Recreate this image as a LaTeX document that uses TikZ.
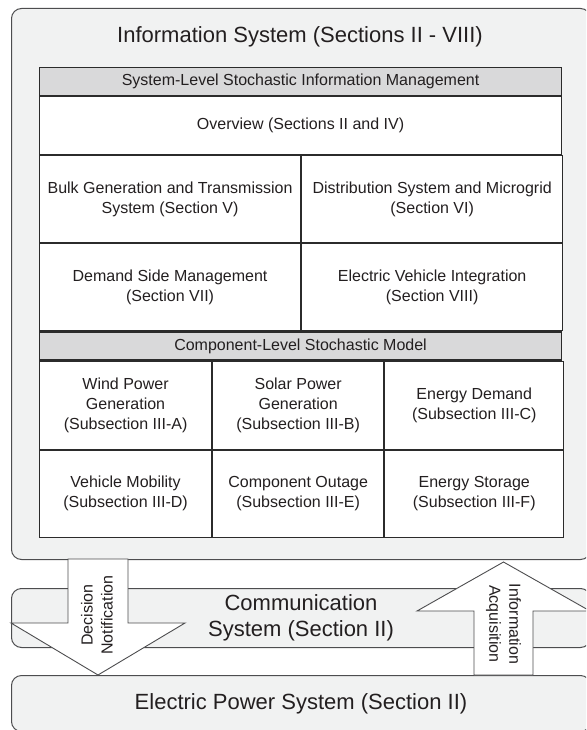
\documentclass[tikz,border=0pt]{standalone}
\usepackage{fontspec}
\setmainfont{Liberation Sans}
\usetikzlibrary{positioning}
\definecolor{boxfill}{HTML}{F1F2F2}
\definecolor{hdrgray}{HTML}{D9D9DA}
\definecolor{boxline}{HTML}{4D4D4F}
\definecolor{cellline}{HTML}{2B2B2B}
\definecolor{txtgray}{HTML}{231F20}
\newcommand{\cellfont}{\fontsize{16}{20}\selectfont}
\newcommand{\bigfont}{\fontsize{22}{25.5}\selectfont}
\tikzset{
    sysbox/.style={draw=boxline,fill=boxfill,rectangle,rounded corners=10pt,line width=1pt,anchor=north west,inner sep=0pt,align=center,font=\bigfont,text=txtgray},
    cellsty/.style={draw=cellline,fill=white,rectangle,anchor=north west,inner sep=0pt,align=center,font=\cellfont,text=txtgray,line width=1.1pt},
    hdrsty/.style={cellsty,fill=hdrgray},
    fullw/.style={minimum width=522},
    halfw/.style={minimum width=261},
    arrsty/.style={draw=boxline,fill=white,line width=0.9pt,line join=miter},
    arrtxt/.style={font=\cellfont,text=txtgray,align=center},
}

\begin{document}
\begin{tikzpicture}[x=1pt,y=-1pt]
\useasboundingbox (0,0) rectangle (586,730);
\clip (0,0) rectangle (586,730);

% information system
\node[sysbox,minimum width=579,minimum height=551] (info) at (11,8) {};
\node[font=\bigfont,text=txtgray] (infottl) at (300,37) {Information System (Sections II - VIII)};

\node[hdrsty,fullw,minimum height=28] (sysmgmt) at (39,67) {System-Level Stochastic Information Management};
\node[cellsty,fullw,minimum height=58] (ovw) at (sysmgmt.south west) {Overview (Sections II and IV)};
\node[cellsty,halfw,minimum height=87] (bulk) at (ovw.south west) {Bulk Generation and Transmission\\System (Section V)};
\node[cellsty,halfw,minimum height=87] (distr) at (bulk.north east) {Distribution System and Microgrid\\(Section VI)};
\node[cellsty,halfw,minimum height=87] (dsm) at (bulk.south west) {Demand Side Management\\(Section VII)};
\node[cellsty,halfw,minimum height=87] (evi) at (dsm.north east) {Electric Vehicle Integration\\(Section VIII)};

\node[hdrsty,fullw,minimum height=28] (compmdl) at (dsm.south west) {Component-Level Stochastic Model};
\node[cellsty,minimum width=172,minimum height=88] (wind) at (compmdl.south west) {Wind Power\\Generation\\(Subsection III-A)};
\node[cellsty,minimum width=171,minimum height=88] (solar) at (wind.north east) {Solar Power\\Generation\\(Subsection III-B)};
\node[cellsty,minimum width=179,minimum height=88] (demand) at (solar.north east) {Energy Demand\\(Subsection III-C)};
\node[cellsty,minimum width=172,minimum height=87] (vehicle) at (wind.south west) {Vehicle Mobility\\(Subsection III-D)};
\node[cellsty,minimum width=171,minimum height=87] (outage) at (vehicle.north east) {Component Outage\\(Subsection III-E)};
\node[cellsty,minimum width=179,minimum height=87] (storage) at (outage.north east) {Energy Storage\\(Subsection III-F)};

% communication and power system
\node[sysbox,minimum width=579,minimum height=59] (comm) at (11,588) {Communication\\System (Section II)};
\node[sysbox,minimum width=579,minimum height=56] (elec) at (11,675) {Electric Power System (Section II)};

% block arrows
\draw[arrsty] (68,559) -- (68,623) -- (11,623) -- (98,675) -- (185,623) -- (128,623) -- (128,559) -- cycle;
\draw[arrsty] (474,675) -- (474,611) -- (417,611) -- (503.5,562) -- (590,611) -- (533,611) -- (533,675) -- cycle;
\node[arrtxt,rotate=90] (decn) at (97,615) {Decision\\Notification};
\node[arrtxt,rotate=-90] (infacq) at (503.5,624) {Information\\Acquisition};

\end{tikzpicture}
\end{document}
